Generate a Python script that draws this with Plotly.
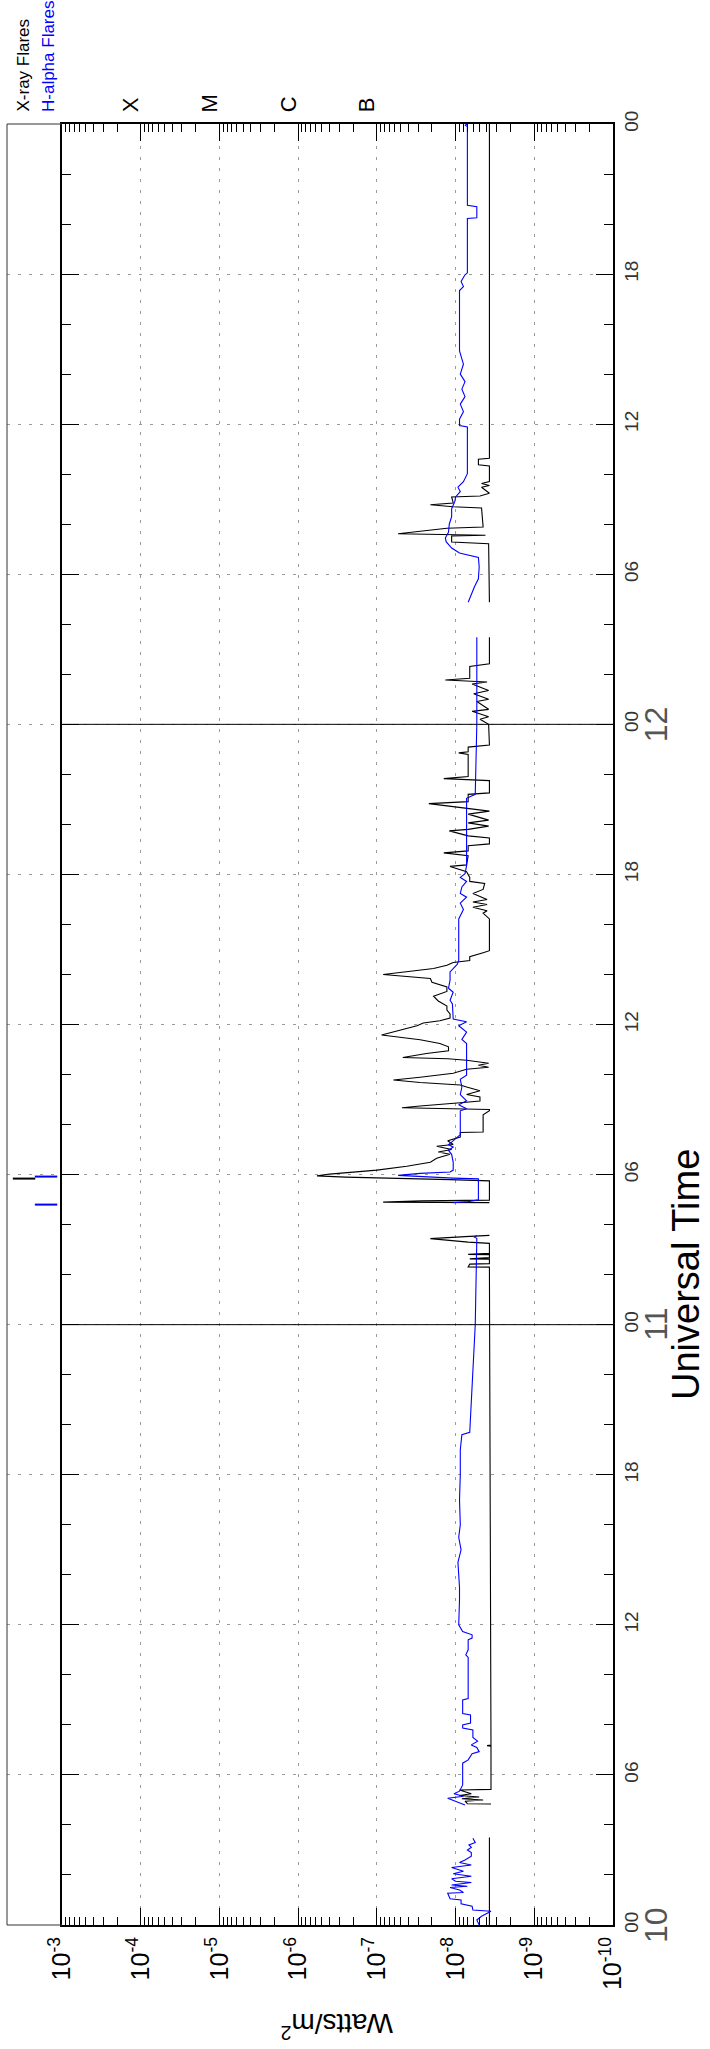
import plotly.graph_objects as go

# Time in hours from 10th 00 UT; flux as log10(W/m^2). None marks data gaps.
xrs_long_t = [
    0.0, 3.5, None,
    4.84, 4.85, 4.95, 5.0, 5.05, 5.12, 5.18, 5.25, 5.4, 5.42, 7.15, 7.17, 7.19, 26.30,
    26.31, 26.42, 26.44, 26.62, 26.63, 26.68, 26.80, 26.81, 26.85, 27.25, 27.30, 27.44, 27.52, 27.57, None,
    28.88, 28.90, 28.95, 28.98, 29.75, 29.80, 29.90, 29.95, 30.02, 30.18, 30.33, 30.49, 30.65, 30.81,
    30.9, 31.0, 31.13, 31.2, 31.35, 31.5, 31.68, 31.70, 32.39, 32.55, 32.60, 32.67, 32.74, 32.79,
    32.87, 32.94, 33.1, 33.2, 33.35, 33.5, 33.58, 33.68, 33.78, 33.89, 34.05, 34.21, 34.29, 34.37,
    34.45, 34.57, 34.63, 34.68, 34.84, 34.95, 35.11, 35.24, 35.39, 35.58, 35.71, 35.84, 35.95, 36.06,
    36.15, 36.26, 36.42, 36.58, 36.74, 36.94, 37.13, 37.32, 37.5, 37.69, 37.84, 38.0, 38.11, 38.24,
    38.37, 38.48, 38.56, 38.71, 38.87, 38.95, 40.22, 40.3, 40.45, 40.55, 40.69, 40.8, 40.9, 41.0,
    41.24, 41.4, 41.64, 41.72, 41.88, 42.11, 42.32, 42.38, 42.75, 42.86, 42.94, 43.15, 43.22, 43.46,
    43.54, 43.74, 43.8, 43.93, 44.06, 44.17, 44.41, 44.53, 44.64, 44.83, 44.91, 45.2, 45.26, 45.75,
    45.83, 45.91, 46.8, 46.86, 46.9, 47.09, 47.17, 48.0,
    48.2, 48.3, 48.52, 48.6, 48.91, 49.0, 49.22, 49.35, 49.61, 49.69, 49.77, 49.84, 50.31, 50.42, 51.48, None,
    52.88, 55.22, 55.29, 55.53, 55.56, 55.62, 55.84, 55.89, 56.65, 56.70, 56.78, 56.85, 57.09, 57.13,
    57.24, 57.48, 57.55, 57.63, 57.71, 58.33, 58.38, 58.6, 58.64, 72.0,
]
xrs_long_log = [
    -8.43, -8.43, None,
    -8.45, -8.15, -8.12, -8.35, -8.08, -8.30, -8.05, -8.20, -8.05, -8.45, -8.45, -8.40, -8.45, -8.43,
    -8.16, -8.18, -8.43, -8.43, -8.18, -8.43, -8.43, -8.16, -8.43, -8.43, -8.16, -7.68, -8.12, -8.43, None,
    -8.43, -7.08, -7.57, -8.43, -8.43, -7.93, -6.60, -6.24, -6.40, -7.00, -7.38, -7.68, -7.76, -7.93,
    -7.78, -7.95, -7.76, -7.97, -7.90, -8.06, -8.06, -8.35, -8.35, -8.43, -8.43, -7.32, -7.55, -7.80,
    -8.06, -8.31, -8.31, -8.14, -8.31, -8.14, -8.06, -7.55, -7.21, -7.55, -7.97, -8.14, -8.42, -8.29,
    -8.42, -8.14, -7.90, -7.33, -7.63, -7.91, -7.91, -7.80, -7.55, -7.06, -7.21, -7.38, -7.51, -7.59,
    -7.80, -7.93, -7.93, -7.89, -7.89, -7.78, -7.72, -7.89, -7.89, -7.70, -7.68, -7.08, -7.38, -7.72,
    -7.89, -7.97, -8.18, -8.18, -8.35, -8.43, -8.43, -8.40, -8.35, -8.40, -8.22, -8.40, -8.22, -8.40,
    -8.22, -8.35, -8.37, -8.18, -8.18, -8.14, -7.93, -8.14, -8.16, -7.85, -8.16, -8.16, -8.43, -8.43,
    -8.16, -7.92, -8.16, -8.42, -8.16, -8.42, -8.16, -8.43, -8.16, -7.66, -8.16, -8.16, -8.43, -8.43,
    -7.85, -8.16, -8.16, -8.04, -8.16, -8.16, -8.43, -8.42,
    -8.31, -8.42, -8.21, -8.42, -8.27, -8.42, -8.23, -8.42, -8.21, -8.40, -7.87, -8.18, -8.18, -8.43, -8.43, None,
    -8.43, -8.42, -7.95, -7.95, -8.38, -7.27, -7.89, -8.35, -8.33, -7.97, -7.68, -7.97, -7.95, -8.31,
    -8.43, -8.33, -8.43, -8.33, -8.43, -8.43, -8.29, -8.29, -8.43, -8.43,
]

xrs_short_t = [
    0.0, 0.2, 0.35, 0.55, 0.6, 0.75, 0.85, 1.0, 1.05, 1.27, 1.3, 1.4, 1.5, 1.55, 1.6, 1.7, 1.75, 1.85,
    1.95, 2.05, 2.15, 2.3, 2.4, 2.5, 2.6, 2.75, 2.9, 3.0, 3.1, 3.2, 3.3, 3.47, None,
    4.8, 4.95, 5.07, 5.15, 5.25, 5.35, 5.6, 6.47, 6.6, 6.85, 6.93, 7.1, 7.2, 7.35, 7.5, 7.8, 7.87, 8.0,
    8.07, 8.4, 8.45, 9.0, 9.05, 10.7, 10.8, 11.0, 11.4, 11.47, 11.6, 11.73, 12.0, 13.0, 13.5, 14.5,
    15.0, 15.5, 16.0, 17.0, 18.0, 19.0, 19.6, 19.7, 24.0, 27.45, 27.5, 27.57, None,
    28.88, 28.92, 28.99, 29.83, 29.86, 29.97, 30.05, 30.1, 30.18, 30.49, 30.81, 30.97, 31.1, 31.2,
    31.3, 31.45, 31.6, 32.55, 32.63, 32.79, 32.95, 33.2, 33.5, 33.81, 33.97, 35.24, 35.4, 35.7, 35.95,
    36.11, 36.22, 36.82, 36.97, 37.29, 37.45, 37.77, 38.1, 38.4, 38.56, 40.22, 40.37, 40.6, 40.85,
    41.09, 41.24, 41.5, 41.72, 41.88, 42.03, 42.35, 45.04, 45.2, 48.0, 51.48, None,
    52.88, 53.2, 53.5, 53.82, 54.3, 54.67, 54.85, 55.05, 55.3, 55.45, 55.68, 56.0, 56.3, 56.62, 56.9,
    57.09, 57.3, 57.48, 57.7, 58.02, 59.89, 59.95, 60.2, 60.5, 60.8, 61.1, 61.4, 61.7, 62.0, 62.4,
    62.93, 65.34, 65.5, 65.7, 65.97, 66.05, 68.22, 68.25, 68.69, 68.75, 71.9, 71.95, 72.0,
]
xrs_short_log = [
    -8.30, -8.27, -8.33, -8.45, -8.22, -8.21, -8.07, -8.07, -7.93, -7.90, -8.10, -8.05, -7.93, -8.15,
    -7.95, -8.20, -8.00, -7.95, -8.20, -7.97, -8.10, -7.95, -8.20, -8.05, -8.12, -8.20, -8.20, -8.15,
    -8.20, -8.17, -8.25, -8.22, None,
    -8.12, -8.00, -7.90, -8.10, -7.98, -8.05, -8.09, -8.09, -8.16, -8.21, -8.30, -8.27, -8.20, -8.28,
    -8.22, -8.22, -8.09, -8.09, -8.19, -8.19, -8.09, -8.09, -8.16, -8.16, -8.13, -8.16, -8.16, -8.21,
    -8.21, -8.09, -8.04, -8.05, -8.05, -8.03, -8.07, -8.04, -8.06, -8.05, -8.06, -8.06, -8.08, -8.18,
    -8.25, -8.27, -8.24, -8.27, None,
    -7.97, -8.16, -8.29, -8.29, -7.97, -7.27, -7.55, -7.93, -7.97, -7.97, -7.95, -7.91, -7.97, -7.91,
    -7.95, -8.00, -8.06, -8.06, -8.14, -8.04, -8.14, -8.06, -8.08, -8.06, -8.14, -8.14, -8.08, -8.14,
    -8.04, -8.14, -7.97, -7.96, -7.93, -7.97, -7.91, -7.93, -7.93, -8.02, -8.04, -8.04, -8.06, -8.10,
    -8.06, -8.14, -8.06, -8.08, -8.14, -8.06, -8.12, -8.14, -8.14, -8.25, -8.27, -8.27, None,
    -8.16, -8.20, -8.24, -8.29, -8.30, -8.29, -8.05, -7.95, -7.88, -7.87, -7.91, -7.92, -7.95, -7.95,
    -7.99, -8.00, -8.06, -8.03, -8.10, -8.15, -8.15, -8.05, -8.05, -8.10, -8.06, -8.12, -8.08, -8.12,
    -8.06, -8.10, -8.05, -8.05, -8.10, -8.07, -8.12, -8.15, -8.15, -8.27, -8.27, -8.15, -8.15, -8.12,
    -8.15,
]

# Flare event times (hours from 10th 00 UT)
xray_flare_t = [29.84]
halpha_flare_t = [28.8, 29.92]

flux_ticks = [1e-3, 1e-4, 1e-5, 1e-6, 1e-7, 1e-8, 1e-9, 1e-10]
flux_tick_text = ["10<sup>-%d</sup>" % n for n in range(3, 11)]
hour_ticks = list(range(0, 73, 6))
hour_tick_text = ["00", "06", "12", "18"] * 4 + ["00"]
day_labels = ["10", "11", "12"]
day_starts = [0, 24, 48]
class_letters = ["X", "M", "C", "B"]
class_decades = [-4, -5, -6, -7]


def to_flux(vals):
    return [None if v is None else 10 ** v for v in vals]


FONT = "Liberation Sans, Arial, sans-serif"
W, H = 710, 2049
ML, MR, MT, MB = 7, 97, 124, 124
plot_w = W - ML - MR
strip_frac = 55 / plot_w

fig = go.Figure()

fig.add_trace(go.Scatter(
    x=to_flux(xrs_long_log), y=xrs_long_t, mode="lines",
    line=dict(color="black", width=1.1), connectgaps=False, showlegend=False,
))
fig.add_trace(go.Scatter(
    x=to_flux(xrs_short_log), y=xrs_short_t, mode="lines",
    line=dict(color="#0000ff", width=1.1), connectgaps=False, showlegend=False,
))

# Flare markers in the side strip
fig.add_trace(go.Scatter(
    x=[0.31] * len(xray_flare_t), y=xray_flare_t, xaxis="x2", yaxis="y", mode="markers",
    marker=dict(symbol="line-ew", size=16, line=dict(width=2, color="black")), showlegend=False,
))
fig.add_trace(go.Scatter(
    x=[0.71] * len(halpha_flare_t), y=halpha_flare_t, xaxis="x2", yaxis="y", mode="markers",
    marker=dict(symbol="line-ew", size=16, line=dict(width=2, color="#0000ff")), showlegend=False,
))

grid_dash = "3px,8px"
fig.update_layout(
    width=W, height=H,
    margin=dict(l=ML, r=MR, t=MT, b=MB),
    paper_bgcolor="white", plot_bgcolor="white",
    font=dict(family=FONT, color="black"),
    xaxis=dict(
        type="log", range=[-3, -10], domain=[strip_frac, 1], anchor="y",
        tickvals=flux_ticks, ticktext=flux_tick_text, tickangle=-90,
        tickfont=dict(size=25, color="black", family=FONT),
        ticks="inside", ticklen=17, tickwidth=1, tickcolor="black",
        showline=True, linewidth=2, linecolor="black", mirror="ticks",
        showgrid=True, gridcolor="#9a9a9a", gridwidth=1, griddash=grid_dash,
        zeroline=False, automargin=False,
        minor=dict(ticks="inside", ticklen=8, dtick="D1", tickcolor="black", showgrid=False),
    ),
    xaxis2=dict(domain=[0, strip_frac], range=[0, 1], visible=False, anchor="y", fixedrange=True),
    yaxis=dict(
        range=[0, 72], side="right", anchor="x",
        tickvals=hour_ticks, ticktext=hour_tick_text, tickangle=-90,
        tickfont=dict(size=19, color="#333333", family=FONT),
        ticks="inside", ticklen=17, tickwidth=1, tickcolor="black",
        showline=True, linewidth=2, linecolor="black", mirror="ticks",
        showgrid=True, gridcolor="#9a9a9a", gridwidth=1, griddash=grid_dash,
        zeroline=False, automargin=False,
        minor=dict(ticks="inside", ticklen=9, dtick=2, tick0=0, tickcolor="black", showgrid=False),
    ),
)

# Day boundaries
for d in day_starts[1:]:
    fig.add_shape(type="line", xref="x domain", yref="y", x0=0, x1=1, y0=d, y1=d,
                  line=dict(color="black", width=1))

# Side strip frame
for x0, y0, x1, y1 in [(0, 0, 0, 1), (0, 1, strip_frac, 1), (0, 0, strip_frac, 0)]:
    fig.add_shape(type="line", xref="paper", yref="paper", x0=x0, y0=y0, x1=x1, y1=y1,
                  line=dict(color="#333333", width=1))


def px_x(px):
    return (px - ML) / plot_w


def px_y(py):
    return (H - MB - py) / (H - MT - MB)


ann = []
ann.append(dict(text="X-ray Flares", x=px_x(23), y=px_y(114), xref="paper", yref="paper",
                xanchor="center", yanchor="bottom", textangle=-90, showarrow=False,
                font=dict(size=17, color="black", family=FONT)))
ann.append(dict(text="H-alpha Flares", x=px_x(48), y=px_y(114), xref="paper", yref="paper",
                xanchor="center", yanchor="bottom", textangle=-90, showarrow=False,
                font=dict(size=17, color="#0000ff", family=FONT)))
for letter, dec in zip(class_letters, class_decades):
    ann.append(dict(text=letter, x=dec, xshift=-10, y=px_y(114), xref="x", yref="paper",
                    xanchor="center", yanchor="bottom", textangle=-90, showarrow=False,
                    font=dict(size=22, color="black", family=FONT)))
for lab, d in zip(day_labels, day_starts):
    ann.append(dict(text=lab, x=px_x(656), y=d, xref="paper", yref="y",
                    xanchor="center", yanchor="middle", textangle=-90, showarrow=False,
                    font=dict(size=32, color="#555555", family=FONT)))
ann.append(dict(text="Universal Time", x=px_x(686), y=px_y(1275), xref="paper", yref="paper",
                xanchor="center", yanchor="middle", textangle=-90, showarrow=False,
                font=dict(size=38, color="black", family=FONT)))
ann.append(dict(text="Watts/m<sup>2</sup>", x=px_x(337), y=px_y(2026), xref="paper", yref="paper",
                xanchor="center", yanchor="middle", textangle=180, showarrow=False,
                font=dict(size=28, color="black", family=FONT)))
fig.update_layout(annotations=ann)

fig.write_html("out.html")
